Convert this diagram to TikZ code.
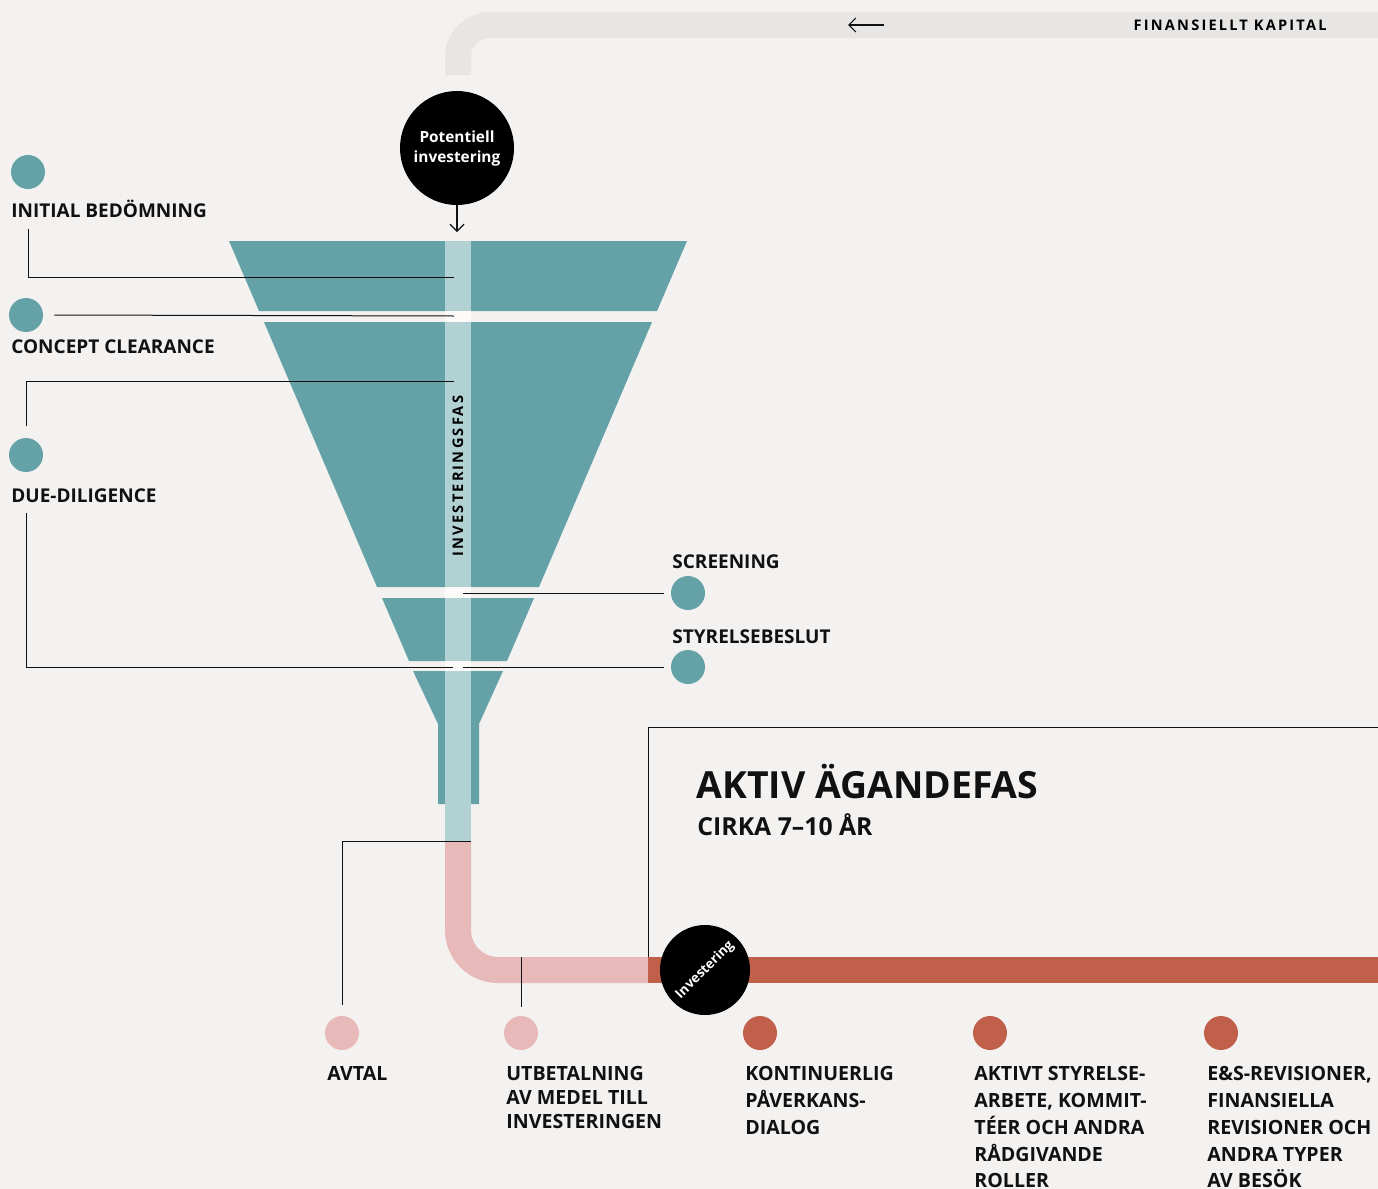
\documentclass[tikz,border=0pt]{standalone}
\usepackage{fontspec}
\setmainfont{Open Sans}
\newfontfamily\spacedfont{Open Sans}[LetterSpace=15]
\usetikzlibrary{arrows.meta,positioning}
\definecolor{fundbg}{RGB}{244,242,240}
\definecolor{fundgrey}{RGB}{231,230,228}
\definecolor{fundteal}{RGB}{100,162,167}
\definecolor{fundstrip}{RGB}{178,209,211}
\definecolor{fundpink}{RGB}{232,185,185}
\definecolor{fundred}{RGB}{192,96,74}
\definecolor{funddark}{RGB}{17,17,17}

\begin{document}
\begin{tikzpicture}[
      x=0.5pt, y=-0.5pt,
      dot/.style={circle, minimum size=17pt, inner sep=0pt},
      tealdot/.style={dot, fill=fundteal},
      pinkdot/.style={dot, fill=fundpink},
      reddot/.style={dot, fill=fundred},
      blackdisc/.style={circle, fill=black, text=white, inner sep=0pt, align=center},
      lbl/.style={anchor=base west, inner sep=0pt, text=funddark, font=\bfseries\fontsize{9.5}{12}\selectfont},
      steplbl/.style={anchor=north west, inner sep=0pt, align=left, text=funddark},
      leader/.style={draw=funddark, line width=0.5pt},
      band/.style={line width=13pt},
      tip/.style={-{Straight Barb[length=3.5pt,width=7pt]}, line width=0.6pt, draw=funddark},
    ]
    \useasboundingbox (0,0) rectangle (1378,1189);
    \fill[fundbg] (0,0) rectangle (1378,1189);

    % capital coming back
    \draw[band, fundgrey, rounded corners=16pt] (458,75) -- (458,25) -- (1400,25);
    \coordinate (capR) at (884,25);
    \coordinate (capL) at (848,25);
    \draw[tip] (capR) -- (capL);
    \node[anchor=base east, inner sep=0pt, font=\spacedfont\bfseries\fontsize{7.3}{8}\selectfont] (kapital) at (1327,30) {FINANSIELLT KAPITAL};

    % funnel
    \fill[fundteal] (229,241) -- (687,241) -- (657,311) -- (259,311) -- cycle;
    \fill[fundteal] (264,322) -- (652,322) -- (539,587) -- (377,587) -- cycle;
    \fill[fundteal] (382,598) -- (534,598) -- (507,661) -- (409,661) -- cycle;
    \fill[fundteal] (413,671) -- (503,671) -- (479,724) -- (479,804) -- (438,804) -- (438,724) -- cycle;
    \fill[fundstrip] (445,241) rectangle (471,841);
    \foreach \ya/\yb in {311/322, 587/598, 661/671}
      \fill[white!70!fundbg] (445,\ya) rectangle (471,\yb);
    \node[rotate=90, inner sep=0pt, font=\spacedfont\bfseries\fontsize{7.3}{8}\selectfont] (fas) at (458,476) {INVESTERINGSFAS};

    % after the funnel
    \draw[band, fundpink, rounded corners=20pt] (458,841) -- (458,970) -- (649,970);
    \draw[band, fundred] (648,970) -- (1400,970);

    \node[blackdisc, minimum size=57pt, font=\bfseries\fontsize{7.7}{10}\selectfont] (potinv) at (457,148) {Potentiell\\investering};
    \coordinate (funneltop) at (457,232);
    \draw[tip] (potinv.south) -- (funneltop);

    % left side steps
    \node[tealdot] (initdot) at (28,172) {};
    \node[lbl] (initlbl) at (11,217) {INITIAL BEDÖMNING};
    \node[tealdot] (ccdot) at (26,315) {};
    \node[lbl] (cclbl) at (11,353) {CONCEPT CLEARANCE};
    \node[tealdot] (dddot) at (26,455) {};
    \node[lbl] (ddlbl) at (11,502) {DUE-DILIGENCE};

    % right side steps
    \node[tealdot] (scrdot) at (688,593) {};
    \node[lbl] (scrlbl) at (672,568) {SCREENING};
    \node[tealdot] (stydot) at (688,667) {};
    \node[lbl] (stylbl) at (672,643) {STYRELSEBESLUT};

    \coordinate (initend) at (454,277);
    \coordinate (ccend) at (454,316);
    \coordinate (ddstart) at (454,381);
    \coordinate (ddend) at (453,667);
    \coordinate (scrstart) at (463,593);
    \coordinate (stystart) at (463,667);
    \draw[leader] ([yshift=-5.5pt]initlbl.south west -| initdot.center) |- (initend);
    \draw[leader] ([xshift=5.5pt]ccdot.east) -- (ccend);
    \draw[leader] (ddstart) -| ([yshift=6pt]dddot.north);
    \draw[leader] ([yshift=-5pt]ddlbl.south west -| dddot.center) |- (ddend);
    \draw[leader] (scrstart) -- ([xshift=-3.5pt]scrdot.west);
    \draw[leader] (stystart) -- ([xshift=-3.5pt]stydot.west);

    % ownership phase
    \coordinate (frameright) at (1400,727);
    \coordinate (framefoot) at (648,957);
    \draw[leader] (frameright) -| (framefoot);
    \node[anchor=base west, inner sep=0pt, text=funddark, font=\bfseries\fontsize{18.7}{20}\selectfont] (phase) at (696,798) {AKTIV ÄGANDEFAS};
    \node[anchor=base west, inner sep=0pt, text=funddark, font=\bfseries\fontsize{12.4}{14}\selectfont] (years) at (697,835) {CIRKA 7–10 ÅR};

    \node[blackdisc, minimum size=45pt] (invest) at (705,970) {};
    \node[rotate=45, inner sep=0pt, text=white, font=\bfseries\fontsize{6.7}{8}\selectfont] (investtxt) at (invest.center) {Investering};

    % bottom steps
    \node[pinkdot] (avtdot) at (342,1033) {};
    \node[pinkdot] (utbdot) at (521,1033) {};
    \node[reddot] (kontdot) at (760,1033) {};
    \node[reddot] (styrdot) at (990,1033) {};
    \node[reddot] (revdot) at (1221,1033) {};

    \node[steplbl, font=\bfseries\fontsize{9.8}{12}\selectfont] (avtlbl) at (327,1066) {AVTAL};
    \node[steplbl, font=\bfseries\fontsize{9.8}{12}\selectfont] (utblbl) at (506,1066) {UTBETALNING\\AV MEDEL TILL\\INVESTERINGEN};
    \node[steplbl, font=\bfseries\fontsize{9.8}{13.4}\selectfont] (kontlbl) at (745,1066) {KONTINUERLIG\\PÅVERKANS-\\DIALOG};
    \node[steplbl, font=\bfseries\fontsize{9.8}{13.4}\selectfont] (styrlbl) at (974,1066) {AKTIVT STYRELSE-\\ARBETE, KOMMIT-\\TÉER OCH ANDRA\\RÅDGIVANDE\\ROLLER};
    \node[steplbl, font=\bfseries\fontsize{9.8}{13.4}\selectfont] (revlbl) at (1207,1066) {E\&S-REVISIONER,\\FINANSIELLA\\REVISIONER OCH\\ANDRA TYPER\\AV BESÖK};

    \coordinate (avtstart) at (471,841);
    \coordinate (utbstart) at (521,957);
    \draw[leader] (avtstart) -| ([yshift=5.5pt]avtdot.north);
    \draw[leader] (utbstart) -- ([yshift=4.5pt]utbdot.north);
  \end{tikzpicture}
\end{document}
